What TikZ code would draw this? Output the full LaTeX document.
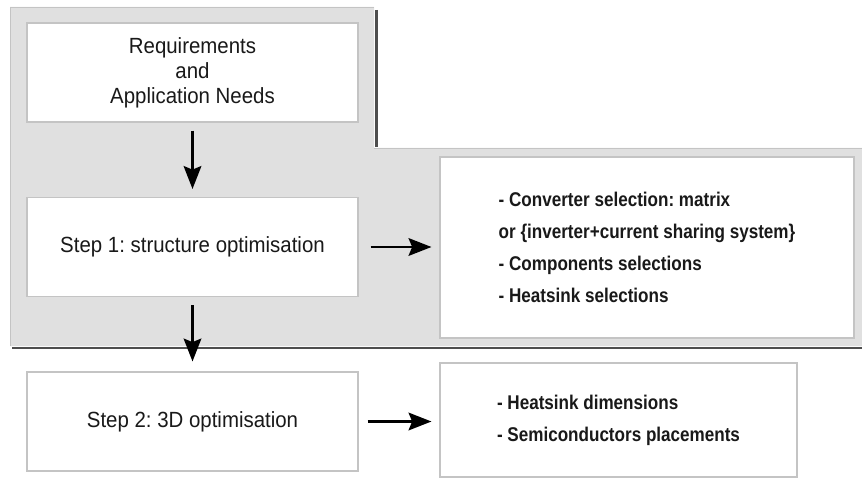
\documentclass[tikz,border=0pt]{standalone}
\usepackage{fontspec}
\setmainfont{Liberation Sans}
\newfontfamily\stepfont[FakeStretch=0.93]{Liberation Sans}
\newfontfamily\listfont[FakeStretch=0.86]{Liberation Sans}
\usetikzlibrary{positioning, arrows.meta}
\definecolor{PanelGray}{RGB}{224,224,224}
\definecolor{EdgeGray}{RGB}{196,196,196}
\definecolor{ShadowGray}{RGB}{78,78,78}
\definecolor{InkGray}{RGB}{25,25,25}
\frenchspacing

\tikzset{
  stepbox/.style={draw=EdgeGray, line width=0.6pt, fill=white, text=InkGray,
                  minimum width=6.62cm, minimum height=1.98cm, inner sep=0pt,
                  align=center, font=\stepfont\fontsize{12.5}{14.2}\selectfont},
  listbox/.style={draw=EdgeGray, line width=0.6pt, fill=white, text=InkGray, inner sep=0pt,
                  align=left, font=\listfont\bfseries\fontsize{11.3}{18.1}\selectfont},
  flow/.style={-{Stealth[length=13pt, width=10pt, inset=2pt]}, line width=1.6pt}
}

\begin{document}
\begin{tikzpicture}
  \useasboundingbox (0,0) rectangle (17.24,9.58);
  % ---- grey panel with its shadow ----
  \fill[PanelGray] (0.2,9.44) -- (7.48,9.44) -- (7.48,6.62) -- (17.24,6.62)
        -- (17.24,2.66) -- (0.2,2.66) -- cycle;
  \draw[EdgeGray, line width=0.5pt] (0.2,2.66) -- (0.2,9.44) -- (7.48,9.44);
  \draw[EdgeGray, line width=0.5pt] (7.48,6.62) -- (17.24,6.62);
  \draw[ShadowGray, line width=1.7pt] (7.53,9.38) -- (7.53,6.64);
  \draw[ShadowGray, line width=1.7pt] (0.24,2.62) -- (17.24,2.62);

  % ---- left column ----
  \node[stepbox] (req) at (3.85,8.13) {Requirements\\and\\Application Needs};
  \node[stepbox] (step1) at (3.85,4.64) {Step 1: structure optimisation};
  \node[stepbox] (step2) at (3.85,1.15) {Step 2: 3D optimisation};

  % ---- right column ----
  \node[listbox, minimum width=8.28cm, minimum height=3.62cm] (select) at (12.94,4.63)
        {- Converter selection: matrix\\or \{inverter+current sharing system\}\\
         - Components selections\\- Heatsink selections};
  \node[listbox, minimum width=7.14cm, minimum height=2.28cm] (dims) at (12.37,1.18)
        {- Heatsink dimensions\\- Semiconductors placements};

  % ---- arrows ----
  \draw[flow, shorten <=0.16cm, shorten >=0.16cm] (req) -- (step1);
  \draw[flow, shorten <=0.16cm, shorten >=0.2cm] (step1) -- (step2);
  \draw[flow, shorten <=0.24cm, shorten >=0.16cm] (step1.east) -- (step1.east -| select.west);
  \draw[flow, shorten <=0.18cm, shorten >=0.16cm] (step2.east) -- (step2.east -| dims.west);
\end{tikzpicture}
\end{document}
